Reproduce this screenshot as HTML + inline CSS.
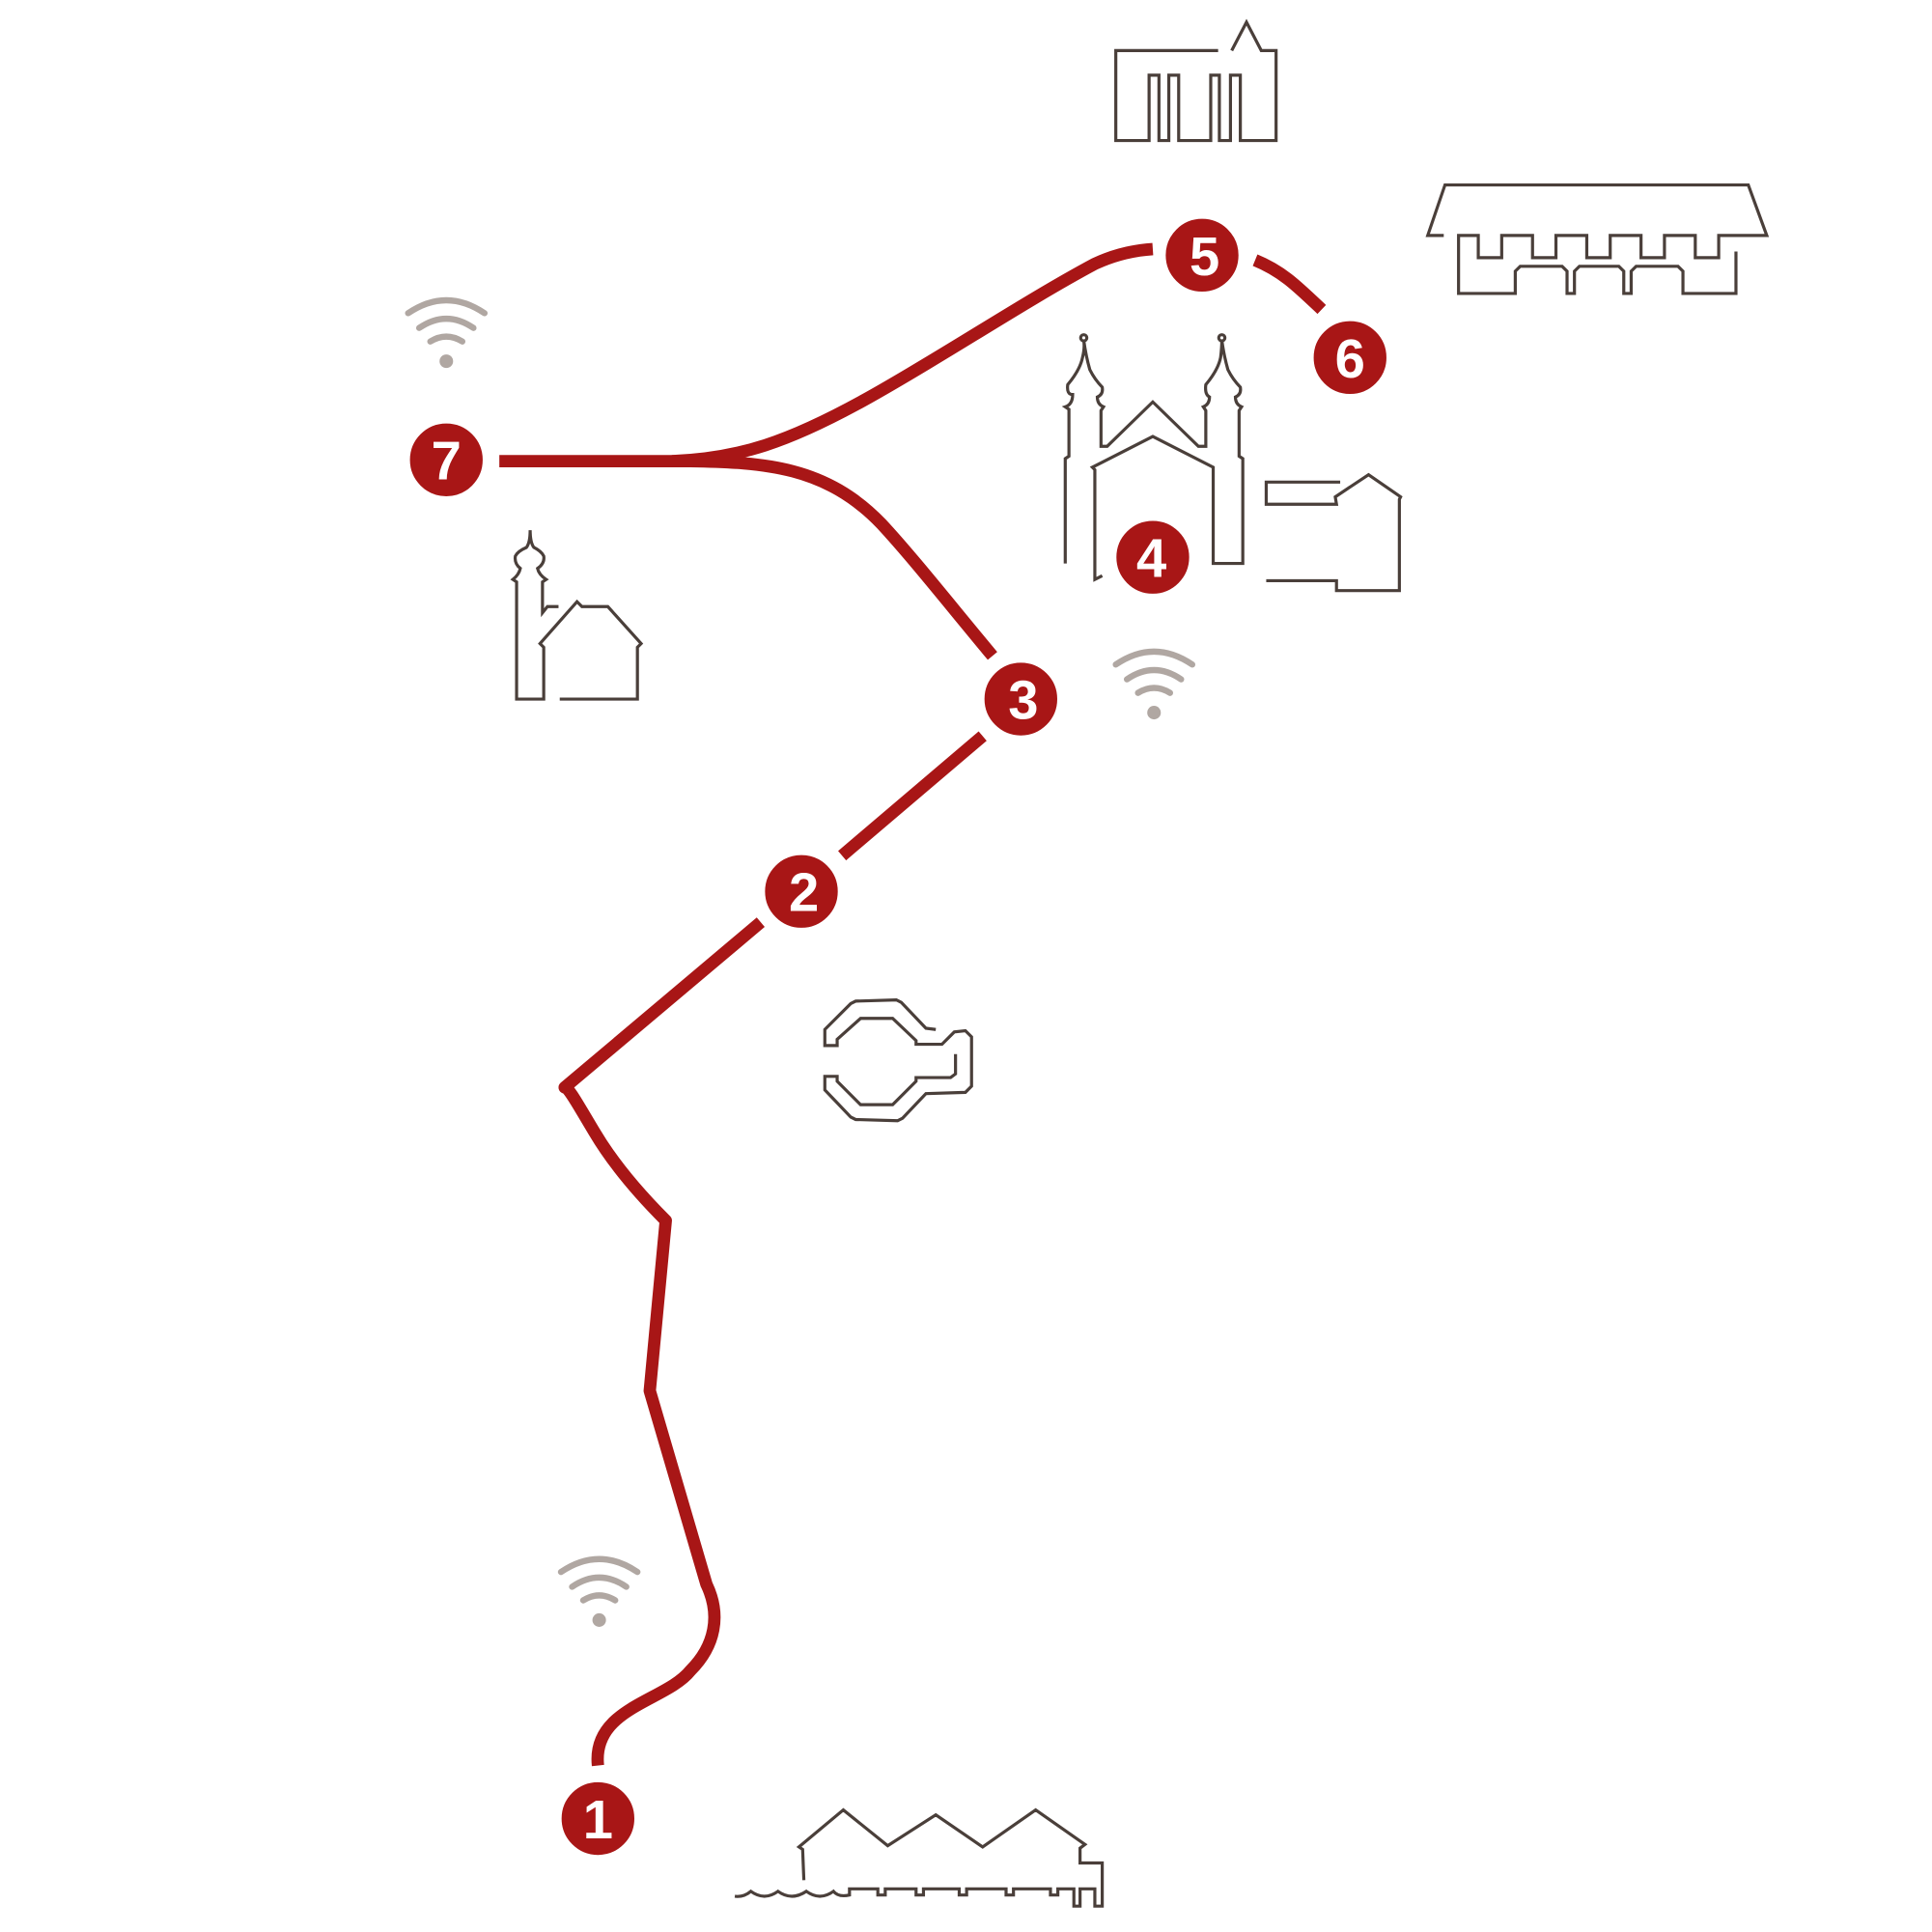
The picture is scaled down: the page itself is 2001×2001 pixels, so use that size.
<!DOCTYPE html>
<html><head><meta charset="utf-8"><style>html,body{margin:0;padding:0;background:#fff}svg{display:block}</style></head>
<body>
<svg width="2001" height="2001" viewBox="0 0 1567 1567" xmlns="http://www.w3.org/2000/svg">
<g fill="none" stroke="#a81616" stroke-width="10" stroke-linejoin="round">
<path d="M485,1432 C480,1385 540,1380 560,1355 C580,1335 585,1310 573,1285 L527,1128 L540,990 C515,965 495,940 482,918 C470,898 460,880 458,882 L617,748"/>
<path d="M683,694 L797,597"/>
<path d="M805,532 C770,490 740,452 715,425 C670,378 620,375 560,374 L405,374"/>
<path d="M545,374 C600,372 640,358 700,325 C760,292 830,245 888,214 C905,206 920,203 935,202"/>
<path d="M1018,211 C1040,220 1052,232 1072,251"/>
</g>
<g fill="#a81616" stroke="#fff" stroke-width="3">
<circle cx="485" cy="1475" r="31"/><circle cx="650" cy="723" r="31"/><circle cx="828" cy="567" r="31"/>
<circle cx="935" cy="452" r="31"/><circle cx="975" cy="207" r="31"/><circle cx="1095" cy="290" r="31"/><circle cx="362" cy="373" r="31"/>
</g>
<g fill="#fff" font-family="Liberation Sans, sans-serif" font-weight="bold" font-size="44" text-anchor="middle">
<text x="485" y="1491">1</text><text x="652" y="739">2</text><text x="830" y="583">3</text><text x="934" y="468">4</text>
<text x="977" y="223">5</text><text x="1095" y="306">6</text><text x="362" y="389">7</text>
</g>
<g fill="none" stroke="#b0a7a2" stroke-width="5" stroke-linecap="round">
<g transform="translate(362,293)"><path d="M-31,-39 Q0,-60 31,-39"/><path d="M-22,-27 Q0,-42 22,-27"/><path d="M-13,-16 Q0,-24 13,-16"/></g>
<g transform="translate(936,578)"><path d="M-31,-39 Q0,-60 31,-39"/><path d="M-22,-27 Q0,-42 22,-27"/><path d="M-13,-16 Q0,-24 13,-16"/></g>
<g transform="translate(486,1314)"><path d="M-31,-39 Q0,-60 31,-39"/><path d="M-22,-27 Q0,-42 22,-27"/><path d="M-13,-16 Q0,-24 13,-16"/></g>
</g>
<g fill="#b0a7a2"><circle cx="362" cy="293" r="5.5"/><circle cx="936" cy="578" r="5.5"/><circle cx="486" cy="1314" r="5.5"/></g>
<g fill="none" stroke="#4a3f3a" stroke-width="2.5">
<path d="M988,41 L905,41 L905,114 L932,114 L932,61 L940,61 L940,114 L948,114 L948,61 L956,61 L956,114 L982,114 L982,61 L989,61 L989,114 L998,114 L998,61 L1006,61 L1006,114 L1035,114 L1035,41 L1023,41 L1011,18 L999,41"/>
<path d="M1171,191 L1158,191 L1172,150 L1418,150 L1433,191 L1394,191 L1394,209 L1375,209 L1375,191 L1350,191 L1350,209 L1331,209 L1331,191 L1306,191 L1306,209 L1287,209 L1287,191 L1262,191 L1262,209 L1243,209 L1243,191 L1218,191 L1218,209 L1199,209 L1199,191 L1183,191 L1183,238 L1229,238 L1229,220 L1233,216 L1267,216 L1271,220 L1271,238 L1277,238 L1277,220 L1281,216 L1313,216 L1317,220 L1317,238 L1323,238 L1323,220 L1327,216 L1361,216 L1365,220 L1365,238 L1408,238 L1408,204"/>
<path d="M864,457 L864,372 L867,370 L867,332 L864,330 Q870,328 870,320 Q865,320 866,312 Q876,300 878,290 Q880,282 879,276 M879,276 Q881,290 884,300 Q888,308 894,314 Q895,320 890,322 Q890,328 895,330 L893,333 L893,362 L898,362 L935,326 L972,362 L978,362 L978,333 L976,330 Q981,328 981,322 Q977,320 978,312 Q988,300 990,290 Q991,282 991,276 M991,276 Q993,290 996,300 Q1000,308 1006,314 Q1007,320 1002,322 Q1002,328 1007,330 L1005,333 L1005,370 L1008,372 L1008,457 L984,457 L984,379 L935,354 L886,379 L888,381 L888,470 L894,467"/>
<circle cx="879" cy="274" r="2.5"/><circle cx="991" cy="274" r="2.5"/>
<path d="M1087,391 L1027,391 L1027,409 L1084,409 L1083,403 L1110,385 L1136,403 L1135,405 L1135,479 L1084,479 L1084,471 L1027,471"/>
<path d="M453,492 L444,492 L440,497 L440,472 L443,470 Q437,466 436,461 Q442,457 441,451 Q439,447 433,444 Q430,440 430,430 Q430,440 427,444 Q420,447 418,451 Q417,457 422,461 Q421,466 416,470 L419,472 L419,567 L441,567 L441,525 L438,522 L468,488 L472,492 L493,492 L520,522 L517,525 L517,567 L454,567"/>
<path d="M759,835 L751,834 L731,813 L727,811 L694,812 L690,814 L669,835 L669,848 L679,848 L679,843 L698,826 L724,826 L743,844 L743,847 L764,847 L774,837 L783,836 L788,841 L788,881 L783,886 L751,887 L732,907 L728,909 L694,908 L690,906 L669,884 L669,873 L679,873 L679,877 L698,896 L724,896 L743,877 L743,874 L771,874 L775,871 L775,855"/>
<path d="M652,1525 L651,1500 L648,1498 L684,1468 L720,1497 L759,1472 L797,1498 L840,1468 L880,1496 L876,1499 L876,1511 L894,1511 L894,1546 L888,1546 L888,1532 L876,1532 L876,1546 L871,1546 L871,1532 L858,1532 L858,1537 L852,1537 L852,1532 L822,1532 L822,1537 L816,1537 L816,1532 L784,1532 L784,1537 L778,1537 L778,1532 L749,1532 L749,1537 L743,1537 L743,1532 L718,1532 L718,1537 L712,1537 L712,1532 L689,1532 L689,1537 Q680,1539 676,1534 Q665,1542 654,1534 Q642,1542 631,1534 Q620,1542 609,1534 Q603,1539 596,1538"/>
</g>
</svg>
</body></html>
